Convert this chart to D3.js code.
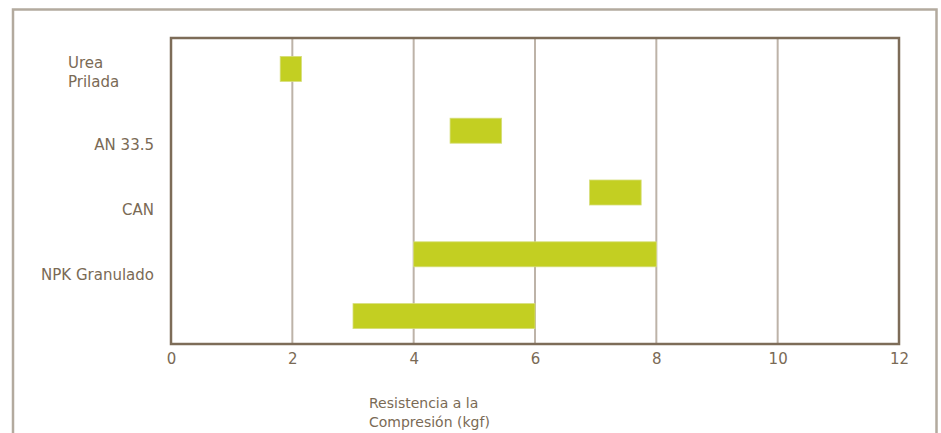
<!DOCTYPE html>
<html>
<head>
<meta charset="utf-8">
<script src="https://cdn.jsdelivr.net/npm/d3@7"></script>
<style>
  html, body { margin: 0; padding: 0; background: #fff; }
  svg { display: block; }
  text { font-family: "DejaVu Sans", Verdana, sans-serif; fill: #7a6a55; }
</style>
</head>
<body>
<script>
// Compression strength ranges (kgf) per fertilizer type
const categories = ["Urea Prilada", "AN 33.5", "CAN", "NPK Granulado", ""];
const rangeLow  = [1.8, 4.6, 6.9, 4.0, 3.0];
const rangeHigh = [2.15, 5.45, 7.75, 8.0, 6.0];
const xTicks = [0, 2, 4, 6, 8, 10, 12];
const xTitle = ["Resistencia a la", "Compresión (kgf)"];

const W = 941, H = 433;
const plot = { left: 171, right: 899, top: 38, bottom: 344 };

const svg = d3.select("body").append("svg").attr("width", W).attr("height", H);

// outer frame (runs off the bottom edge)
svg.append("path")
  .attr("d", `M13,${H + 5} V9.5 H936.5 V${H + 5}`)
  .attr("fill", "none").attr("stroke", "#b3aa9e").attr("stroke-width", 2.5);

const x = d3.scaleLinear().domain([0, 12]).range([plot.left, plot.right]);
const y = d3.scaleBand().domain(d3.range(categories.length))
  .range([plot.top, plot.bottom + 3]).paddingInner(0.6).paddingOuter(0.3);
// category labels sit on a slightly looser spacing than the bars
const yLabel = d3.scaleBand().domain(d3.range(categories.length))
  .range([plot.top + 14, plot.bottom + 32]).paddingInner(0.6).paddingOuter(0.3);

// vertical gridlines
svg.append("g").selectAll("line")
  .data(xTicks.filter(t => t > 0 && t < 12))
  .join("line")
  .attr("x1", d => x(d)).attr("x2", d => x(d))
  .attr("y1", plot.top).attr("y2", plot.bottom)
  .attr("stroke", "#bdb3a8").attr("stroke-width", 2);

// range bars
svg.append("g").selectAll("rect")
  .data(categories.map((c, i) => ({ i, lo: rangeLow[i], hi: rangeHigh[i] })))
  .join("rect")
  .attr("x", d => x(d.lo))
  .attr("width", d => x(d.hi) - x(d.lo))
  .attr("y", d => y(d.i) + y.bandwidth() / 2 - 12.5)
  .attr("height", 25)
  .attr("fill", "#c3cf22")
  .attr("stroke", "#d6de7a").attr("stroke-width", 0.8);

// plot frame
svg.append("rect")
  .attr("x", plot.left).attr("y", plot.top)
  .attr("width", plot.right - plot.left).attr("height", plot.bottom - plot.top)
  .attr("fill", "none").attr("stroke", "#7d6c58").attr("stroke-width", 2.5);

// x axis labels
const xAxis = d3.axisBottom(x).tickValues(xTicks).tickSize(0).tickPadding(9)
  .tickFormat(d3.format("d"));
const gx = svg.append("g").attr("transform", `translate(0,${plot.bottom})`).call(xAxis);
gx.select(".domain").remove();
gx.selectAll("text")
  .attr("font-family", "'DejaVu Sans', Verdana, sans-serif")
  .attr("font-size", 15).attr("fill", "#7a6a55");

// category labels
const labelG = svg.append("g").attr("font-size", 15);
categories.forEach((c, i) => {
  if (!c) return;
  if (i === 0) {
    const cy = y(i) + y.bandwidth() / 2;
    const words = c.split(" ");
    const t = labelG.append("text").attr("x", 68).attr("text-anchor", "start");
    words.forEach((w, k) => {
      t.append("tspan").attr("x", 68).attr("y", cy - 1 + k * 19).text(w);
    });
  } else {
    labelG.append("text")
      .attr("x", 154).attr("y", yLabel(i) + yLabel.bandwidth() / 2 + 1)
      .attr("text-anchor", "end").text(c);
  }
});

// axis title
const tt = svg.append("text").attr("font-size", 14);
xTitle.forEach((line, k) => {
  tt.append("tspan").attr("x", 369).attr("y", 408 + k * 19).text(line);
});
</script>
</body>
</html>
